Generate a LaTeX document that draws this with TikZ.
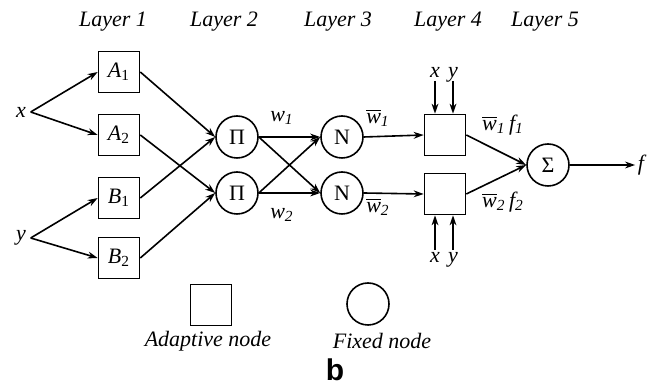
\documentclass[tikz,border=0pt]{standalone}
\usepackage{fontspec}
\setmainfont{Liberation Serif}
\newfontfamily\sansbold{Liberation Sans}
\usetikzlibrary{arrows.meta}
\newcommand{\lsub}[2]{\textit{#1}\textsubscript{\upshape #2}}
\newcommand{\isub}[2]{\textit{#1}\textsubscript{\itshape #2}}
\newcommand{\wb}[1]{$\overline{\mbox{\itshape w}}$\textsubscript{\itshape #1}}

\begin{document}
\begin{tikzpicture}[x=0.5pt, y=-0.5pt, line width=0.8pt,
    >={Stealth[length=5pt, width=3.4pt, inset=1.6pt]},
    every node/.style={font=\fontsize{11}{13}\selectfont},
    adaptive/.style={draw, minimum size=20.5pt, inner sep=0pt},
    fixed/.style={draw, circle, minimum size=21pt, inner sep=0pt},
    lbl/.style={font=\itshape\fontsize{11}{13}\selectfont, inner sep=1pt}]
  \useasboundingbox (0,0) rectangle (654,389);
  \foreach \x/\n in {113/1, 224/2, 338/3, 448/4, 545/5}
    \node[lbl] (layer\n) at (\x,22) {Layer \n};
  \node[lbl, inner sep=2pt] (x) at (21,112) {x};
  \node[lbl, inner sep=2pt] (y) at (21,238) {y};
  \node[adaptive] (A1) at (119,72) {\lsub{A}{1}};
  \node[adaptive] (A2) at (119,135) {\lsub{A}{2}};
  \node[adaptive] (B1) at (119,198) {\lsub{B}{1}};
  \node[adaptive] (B2) at (119,258) {\lsub{B}{2}};
  \node[fixed] (P1) at (237,137) {Π};
  \node[fixed] (P2) at (237,193) {Π};
  \node[fixed] (N1) at (342,137) {N};
  \node[fixed] (N2) at (342,193) {N};
  \node[adaptive] (F1) at (445,135) {};
  \node[adaptive] (F2) at (445,194) {};
  \node[fixed] (S) at (548,165) {Σ};
  \node[lbl] (f) at (641,165) {f};
  \foreach \s/\t in {x/A1, x/A2, y/B1, y/B2, A1/P1, B1/P1, A2/P2, B2/P2,
      P1/N1, P1/N2, P2/N1, P2/N2, N1/F1, N2/F2, F1/S, F2/S, S/f}
    \draw[->] (\s.east) -- (\t.west);
  \node[lbl] (w1) at (282,118) {\isub{w}{1}};
  \node[lbl] (w2) at (282,215) {\isub{w}{2}};
  \node[lbl] (wb1) at (378,118) {\wb{1}};
  \node[lbl] (wb2) at (378,207) {\wb{2}};
  \node[lbl] (wf1) at (503,125) {\wb{1}\,\isub{f}{1}};
  \node[lbl] (wf2) at (503,202) {\wb{2}\,\isub{f}{2}};
  \node[lbl, anchor=base] (xt) at (435,78) {x};
  \node[lbl, anchor=base] (yt) at (453,78) {y};
  \node[lbl, anchor=base] (xb) at (435,263) {x};
  \node[lbl, anchor=base] (yb) at (453,263) {y};
  \draw[->] (xt.south) -- (xt.south |- F1.north);
  \draw[->] (xt.south -| yt) -- (yt |- F1.north);
  \draw[->] (xb.north) -- (xb.north |- F2.south);
  \draw[->] (yb.north) -- (yb.north |- F2.south);
  \node[adaptive] (adnode) at (211,305) {};
  \node[fixed] (fxnode) at (368,304) {};
  \node[lbl] (adtext) at (208,341) {Adaptive node};
  \node[lbl] (fxtext) at (382,341) {Fixed node};
  \node[font=\sansbold\bfseries\fontsize{15}{17}\selectfont] (b) at (335,370) {b};
\end{tikzpicture}
\end{document}
